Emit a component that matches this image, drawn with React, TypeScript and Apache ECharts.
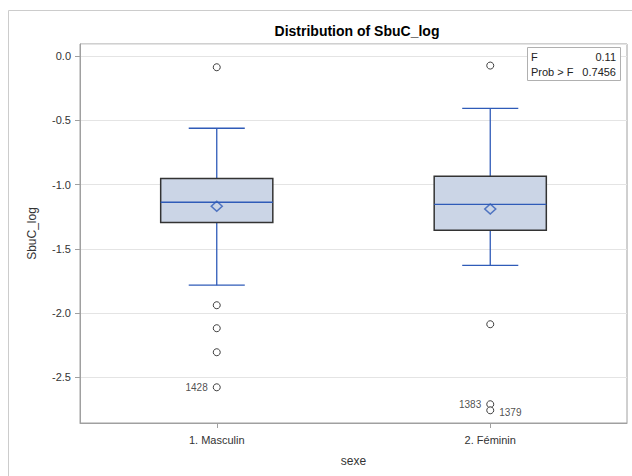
import React, { useEffect, useRef } from "react";
import * as echarts from "echarts";

const categories = ["1. Masculin", "2. Féminin"];
const whiskerLow = [-1.783, -1.628];
const q1 = [-1.295, -1.355];
const median = [-1.137, -1.153];
const q3 = [-0.952, -0.935];
const whiskerHigh = [-0.561, -0.407];
const means = [-1.168, -1.19];
const outliersMasculin = [-0.086, -1.939, -2.118, -2.305, -2.578];
const outliersFeminin = [-0.073, -2.087, -2.71, -2.757];
const outlierIds: Record<string, { id: string; pos: string }> = {
  "0:-2.578": { id: "1428", pos: "left" },
  "1:-2.71": { id: "1383", pos: "left" },
  "1:-2.757": { id: "1379", pos: "right" },
};
const statF = "0.11";
const statP = "0.7456";

const FONT = "'Liberation Sans', Arial, sans-serif";
const BLUE = "#2f5bb8";

export default function App() {
  const ref = useRef<HTMLDivElement>(null);
  useEffect(() => {
    if (!ref.current) return;
    const chart = echarts.init(ref.current, undefined, { renderer: "svg" });

    const boxData = categories.map((_, i) => [i, whiskerLow[i], q1[i], median[i], q3[i], whiskerHigh[i]]);
    const outlierData: any[] = [];
    [outliersMasculin, outliersFeminin].forEach((arr, ci) => {
      arr.forEach((v) => {
        const key = `${ci}:${v}`;
        const lab = outlierIds[key];
        if (lab) {
          outlierData.push({
            value: [ci, v],
            name: lab.id,
            label: {
              show: true,
              position: lab.pos,
              distance: 5,
              formatter: lab.id,
              fontSize: 10,
              color: "#222",
              fontFamily: FONT,
              offset: lab.pos === "right" ? [0, 2] : [0, 0],
            },
          });
        } else {
          outlierData.push({ value: [ci, v] });
        }
      });
    });

    const txt = (text: string, x: number, y: number, align: string) => ({
      type: "text",
      x,
      y,
      z: 101,
      style: { text, fontFamily: FONT, fontSize: 11, fill: "#222", textAlign: align, textVerticalAlign: "middle" },
    });

    chart.setOption({
      animation: false,
      backgroundColor: "#fff",
      title: {
        text: "Distribution of SbuC_log",
        left: 352,
        textAlign: "center",
        top: 19,
        textStyle: { fontFamily: FONT, fontSize: 14, fontWeight: "bold", color: "#000" },
      },
      grid: {
        left: 80,
        right: 5,
        top: 44,
        bottom: 53,
        show: true,
        borderColor: "#a0a0a0",
        borderWidth: 1,
        backgroundColor: "#fff",
      },
      xAxis: {
        type: "category",
        data: categories,
        name: "sexe",
        nameLocation: "middle",
        nameGap: 32,
        nameTextStyle: { fontFamily: FONT, fontSize: 12, color: "#333" },
        axisLine: { show: true, onZero: false, lineStyle: { color: "#a0a0a0" } },
        axisTick: { show: true, alignWithLabel: true, length: 5, lineStyle: { color: "#a0a0a0" } },
        axisLabel: { fontFamily: FONT, fontSize: 11, color: "#333", margin: 11 },
        splitLine: { show: false },
      },
      yAxis: {
        type: "value",
        min: -2.856,
        max: 0.095,
        splitNumber: 6,
        name: "SbuC_log",
        nameLocation: "middle",
        nameGap: 42,
        nameTextStyle: { fontFamily: FONT, fontSize: 12, color: "#333" },
        axisLine: { show: true, lineStyle: { color: "#a0a0a0" } },
        axisTick: { show: true, length: 5, lineStyle: { color: "#a0a0a0" } },
        axisLabel: {
          fontFamily: FONT,
          fontSize: 11,
          color: "#333",
          margin: 9,
          showMinLabel: false,
          showMaxLabel: false,
          formatter: (v: number) => v.toFixed(1),
        },
        splitLine: { show: true, lineStyle: { color: "#e4e4e4", width: 1 } },
      },
      graphic: [
        {
          type: "rect",
          shape: { x: 8.5, y: 10.5, width: 700, height: 600 },
          style: { fill: "none", stroke: "#cccccc", lineWidth: 1 },
          silent: true,
          z: -10,
        },
        {
          type: "rect",
          shape: { x: 527.5, y: 47.5, width: 93, height: 33 },
          style: { fill: "#fff", stroke: "#b0b0b0", lineWidth: 1 },
          z: 100,
        },
        txt("F", 531, 57, "left"),
        txt(statF, 616, 57, "right"),
        txt("Prob > F", 531, 72, "left"),
        txt(statP, 616, 72, "right"),
      ],
      series: [
        {
          type: "custom",
          data: boxData,
          encode: { x: 0, y: [1, 2, 3, 4, 5] },
          z: 2,
          renderItem: (params: any, api: any) => {
            const idx = api.value(0);
            const lo = api.coord([idx, api.value(1)]);
            const b1 = api.coord([idx, api.value(2)]);
            const md = api.coord([idx, api.value(3)]);
            const b3 = api.coord([idx, api.value(4)]);
            const hi = api.coord([idx, api.value(5)]);
            const x = lo[0];
            const bandW = api.size([1, 0])[0];
            const boxW = bandW * 0.41;
            const capW = boxW * 0.5;
            const ws = { stroke: BLUE, lineWidth: 1.3 };
            return {
              type: "group",
              children: [
                { type: "line", shape: { x1: x, y1: b3[1], x2: x, y2: hi[1] }, style: ws },
                { type: "line", shape: { x1: x, y1: b1[1], x2: x, y2: lo[1] }, style: ws },
                { type: "line", shape: { x1: x - capW / 2, y1: hi[1], x2: x + capW / 2, y2: hi[1] }, style: ws },
                { type: "line", shape: { x1: x - capW / 2, y1: lo[1], x2: x + capW / 2, y2: lo[1] }, style: ws },
                {
                  type: "rect",
                  shape: { x: x - boxW / 2, y: b3[1], width: boxW, height: b1[1] - b3[1] },
                  style: { fill: "#cbd5e6", stroke: "#333", lineWidth: 1.5 },
                },
                { type: "line", shape: { x1: x - boxW / 2, y1: md[1], x2: x + boxW / 2, y2: md[1] }, style: ws },
              ],
            };
          },
        },
        {
          type: "scatter",
          data: means.map((v, i) => [i, v]),
          symbol: "diamond",
          symbolSize: [11, 10],
          itemStyle: { color: "rgba(0,0,0,0)", borderColor: BLUE, borderWidth: 1.5 },
          z: 5,
        },
        {
          type: "scatter",
          data: outlierData,
          symbol: "circle",
          symbolSize: 7,
          itemStyle: { color: "#fff", borderColor: "#111", borderWidth: 1 },
          z: 6,
        },
      ],
    });
    return () => chart.dispose();
  }, []);
  return <div ref={ref} style={{ position: "absolute", left: 0, top: 0, width: 632, height: 476 }} />;
}
